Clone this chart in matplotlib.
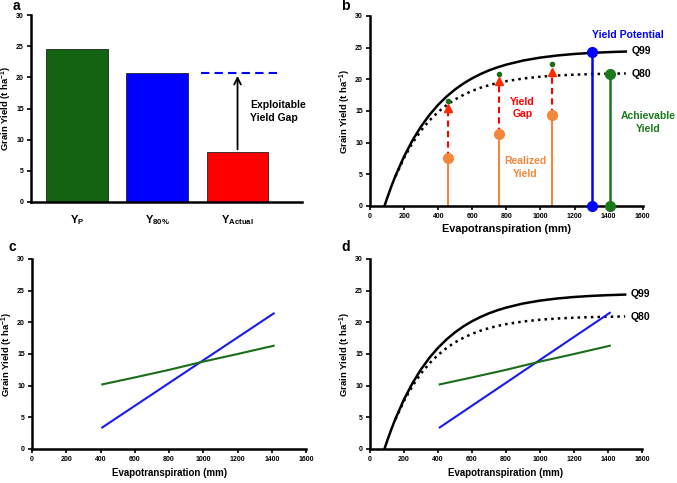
import matplotlib
matplotlib.use("Agg")
import matplotlib.pyplot as plt

plt.rcParams['font.family'] = ['Liberation Sans', 'DejaVu Sans']
plt.rcParams['font.weight'] = 'bold'
plt.rcParams['mathtext.fontset'] = 'custom'
plt.rcParams['mathtext.rm'] = 'Liberation Sans:bold'
plt.rcParams['mathtext.bf'] = 'Liberation Sans:bold'
plt.rcParams['mathtext.it'] = 'Liberation Sans:bold'

# ---------------- data ----------------
bar_labels = [r"$\mathbf{Y_{P}}$", r"$\mathbf{Y_{80\%}}$", r"$\mathbf{Y_{Actual}}$"]
bar_values = [24.5, 20.7, 8.0]
bar_colors = ['#136313', '#0000ff', '#ff0000']

et_q99 = [85, 100, 125, 150, 200, 250, 300, 350, 400, 450, 500, 550, 600, 650, 700, 750,
          800, 900, 1000, 1100, 1200, 1300, 1400, 1500]
q99 = [0.0, 1.2, 3.07, 4.79, 7.83, 10.40, 12.58, 14.42, 15.98, 17.30, 18.42, 19.37, 20.17,
       20.85, 21.43, 21.91, 22.32, 22.97, 23.43, 23.76, 24.00, 24.17, 24.29, 24.38]
et_q80 = [150, 200, 250, 300, 350, 400, 450, 500, 550, 600, 650, 700, 750, 800, 900, 1000,
          1100, 1200, 1300, 1400, 1500]
q80 = [4.70, 7.59, 9.97, 11.92, 13.53, 14.85, 15.94, 16.84, 17.57, 18.18, 18.68, 19.09,
       19.43, 19.71, 20.13, 20.41, 20.60, 20.73, 20.82, 20.88, 20.92]

realized_et = [455, 755, 1065]
realized_y = [7.5, 11.3, 14.3]
gap_top = [15.4, 19.7, 21.2]
green_small = [16.5, 20.8, 22.4]

yp_et, yp_y = 1300, 24.3
ya_et, ya_y = 1410, 20.8

line_et = [410, 1410]
blue_line = [3.4, 21.4]
green_et = [410, 600, 800, 1000, 1200, 1410]
green_line = [10.2, 11.3, 12.5, 13.8, 15.0, 16.3]

xticks = [0, 200, 400, 600, 800, 1000, 1200, 1400, 1600]
yticks = [0, 5, 10, 15, 20, 25, 30]

ORANGE = '#f4873a'
GREEN = '#1a7a1a'
LGREEN = '#1a6e1a'

fig = plt.figure(figsize=(6.77, 4.83), dpi=100)

def style(ax, xaxis=True):
    for s in ['top', 'right']:
        ax.spines[s].set_visible(False)
    for s in ['left', 'bottom']:
        ax.spines[s].set_linewidth(1.8)
    ax.tick_params(width=1.2, length=3, labelsize=5, pad=2)
    ax.set_ylim(0, 30)
    ax.set_yticks(yticks)
    ax.set_yticklabels([str(t) for t in yticks], fontsize=5, fontweight='bold')
    if xaxis:
        ax.set_xlim(0, 1600)
        ax.set_xticks(xticks)
        ax.set_xticklabels([str(t) for t in xticks], fontsize=5, fontweight='bold')
    ax.set_ylabel(r"Grain Yield (t ha$^{\mathbf{-1}}$)", fontsize=6.8, fontweight='bold')
    ax.yaxis.set_label_coords(-0.062, 0.5)

# ---- panel a ----
axa = fig.add_axes([0.0458, 0.5818, 0.400, 0.387])
axa.bar(range(3), bar_values, width=0.77, color=bar_colors, edgecolor='#222222', linewidth=0.6)
axa.set_xlim(-0.57, 2.8)
style(axa, xaxis=False)
axa.set_xticks(range(3))
axa.set_xticklabels(bar_labels, fontsize=8)
axa.tick_params(axis='x', length=0, pad=8)
axa.plot([1.55, 2.53], [bar_values[1], bar_values[1]], '--', color='#0000ff', lw=1.5, dashes=(4, 2.5))
axa.annotate('', xy=(2.0, bar_values[1]), xytext=(2.0, bar_values[2]),
             arrowprops=dict(arrowstyle='->', color='black', lw=1.3, mutation_scale=12))
axa.text(2.16, 14.5, "Exploitable\nYield Gap", fontsize=7.5, fontweight='bold', va='center', ha='left',
         linespacing=1.3)

# ---- panel b ----
axb = fig.add_axes([0.5465, 0.5735, 0.403, 0.3935])
style(axb)
axb.set_xlabel("Evapotranspiration (mm)", fontsize=7.8, fontweight='bold', labelpad=3)
axb.plot(et_q99, q99, '-', color='black', lw=1.8)
axb.plot(et_q80, q80, ':', color='black', lw=1.8)
for x, y0, yt, yg in zip(realized_et, realized_y, gap_top, green_small):
    axb.plot([x, x], [0, y0], '-', color=ORANGE, lw=1.5)
    axb.plot([x, x], [y0, yt], '--', color='#ff0000', lw=1.5, dashes=(3, 2))
    axb.plot([x], [yt], '^', color='#ff2a00', ms=6, zorder=5)
    axb.plot([x], [y0], 'o', color=ORANGE, ms=7, zorder=5)
    axb.plot([x], [yg], 'o', color=LGREEN, ms=3, zorder=5)
axb.plot([yp_et, yp_et], [0, yp_y], '-', color='#0000ff', lw=1.8)
axb.plot([yp_et, yp_et], [0, yp_y], 'o', color='#0000ff', ms=7, clip_on=False, zorder=6)
axb.plot([ya_et, ya_et], [0, ya_y], '-', color=GREEN, lw=1.8)
axb.plot([ya_et, ya_et], [0, ya_y], 'o', color=GREEN, ms=7, clip_on=False, zorder=6)
axb.text(1515, 27.0, "Yield Potential", color='#0000ff', fontsize=7.5, fontweight='bold', ha='center', va='center')
axb.text(1535, 24.5, "Q99", color='black', fontsize=7.5, fontweight='bold', ha='left', va='center')
axb.text(1535, 20.9, "Q80", color='black', fontsize=7.5, fontweight='bold', ha='left', va='center')
axb.text(1630, 13.2, "Achievable\nYield", color=GREEN, fontsize=7.5, fontweight='bold', ha='center', va='center',
         linespacing=1.3)
axb.text(895, 15.5, "Yield\nGap", color='#ff0000', fontsize=7.5, fontweight='bold', ha='center', va='center',
         linespacing=1.3)
axb.text(910, 6.1, "Realized\nYield", color=ORANGE, fontsize=7.5, fontweight='bold', ha='center', va='center',
         linespacing=1.3)

# ---- panel c ----
axc = fig.add_axes([0.0473, 0.0704, 0.405, 0.3934])
style(axc)
axc.set_xlabel("Evapotranspiration (mm)", fontsize=7.0, fontweight='bold', labelpad=4)
axc.plot(line_et, blue_line, '-', color='#1a1aee', lw=1.5)
axc.plot(green_et, green_line, '-', color=LGREEN, lw=1.5)

# ---- panel d ----
axd = fig.add_axes([0.5465, 0.0704, 0.402, 0.3934])
style(axd)
axd.set_xlabel("Evapotranspiration (mm)", fontsize=7.0, fontweight='bold', labelpad=4)
axd.plot(et_q99, q99, '-', color='black', lw=1.8)
axd.plot(et_q80, q80, ':', color='black', lw=1.8)
axd.plot(line_et, [blue_line[0], 21.5], '-', color='#1a1aee', lw=1.5)
axd.plot(green_et, green_line, '-', color=LGREEN, lw=1.5)
axd.text(1535, 24.5, "Q99", color='black', fontsize=7.5, fontweight='bold', ha='left', va='center')
axd.text(1535, 20.9, "Q80", color='black', fontsize=7.5, fontweight='bold', ha='left', va='center')

# panel letters
for lab, x, y in [('a', 0.018, 1.003), ('b', 0.504, 1.003), ('c', 0.013, 0.503), ('d', 0.504, 0.503)]:
    fig.text(x, y, lab, fontsize=10, fontweight='bold', ha='left', va='top')

fig.savefig("out.png", dpi=100)
